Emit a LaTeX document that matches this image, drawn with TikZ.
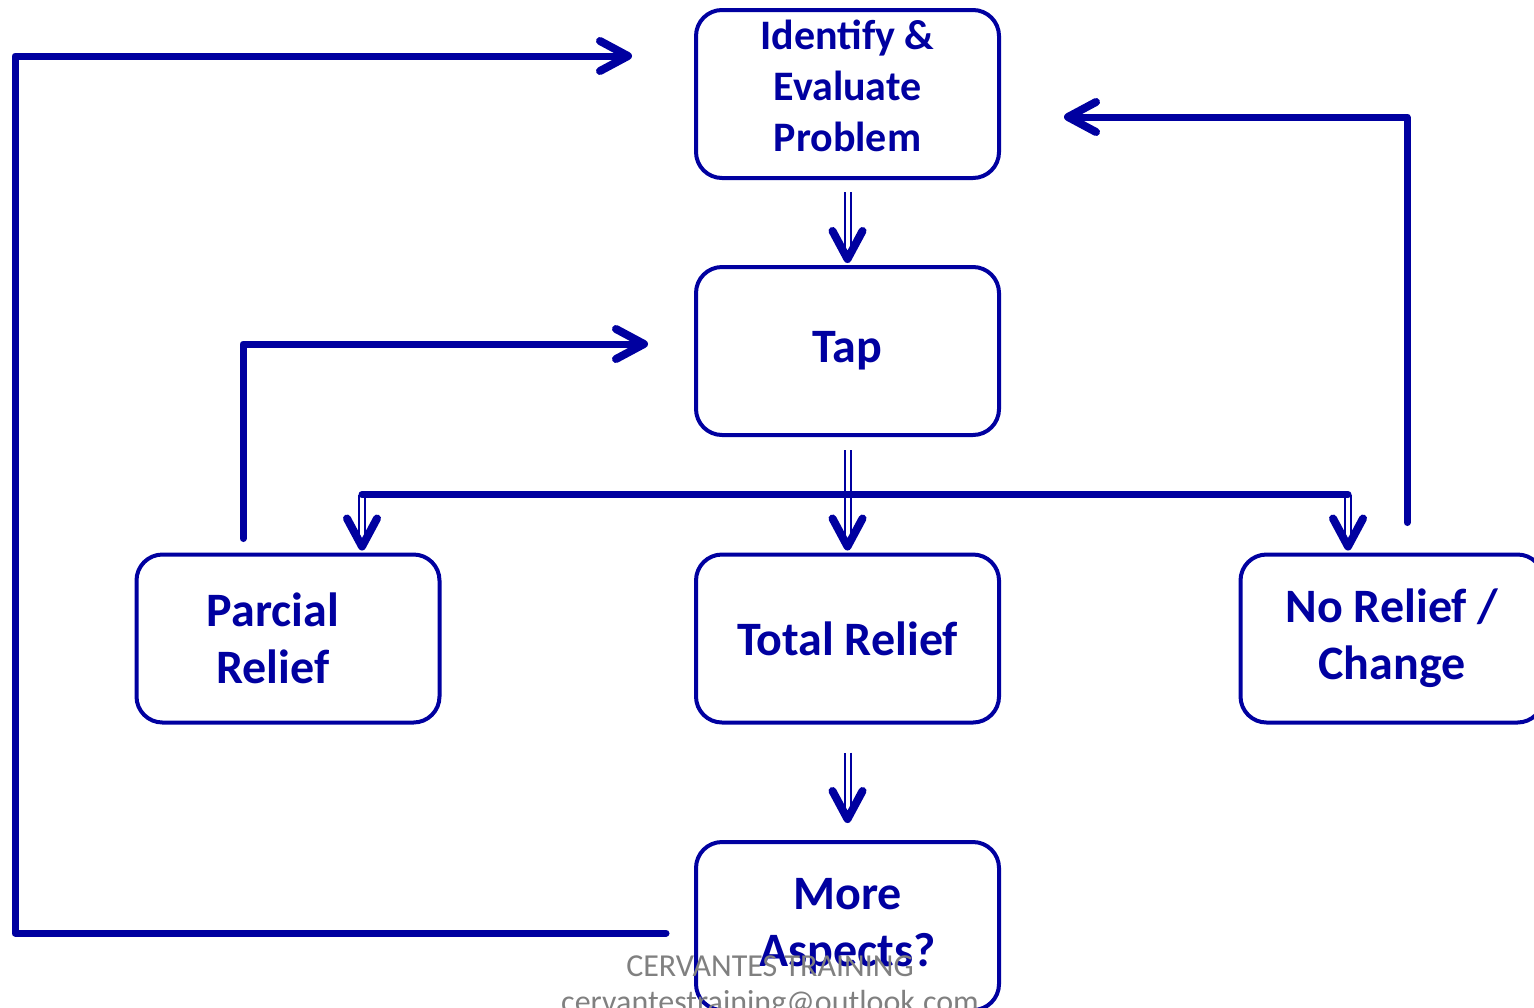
\documentclass[tikz,border=0pt]{standalone}
\usepackage{fontspec}
\setmainfont{Carlito}
\usepackage{tikz}
\usetikzlibrary{arrows.meta}
\usetikzlibrary{calc}

\begin{document}
\begin{tikzpicture}[x=0.5pt, y=-0.5pt,
				every text node part/.style={align=center},
				block/.style={rectangle, draw=navyblue, line width=2pt, fill=white, minimum width=151.5pt, minimum height=84pt, rounded corners=13pt, text=navyblue, font=\fontsize{24}{28.5}\selectfont\bfseries},
				shaft/.style={draw=navyblue, double=white, double distance=2pt, line width=1pt, -{Straight Barb[length=14pt, width=15pt, line width=4pt, round]}},
				feedback/.style={navyblue, line width=3.5pt, line join=round, line cap=round, -{Straight Barb[length=14pt, width=15pt, line width=4pt, round]}},
				bus/.style={navyblue, line width=3.5pt, line cap=round},
				wmark/.style={text=gray, font=\fontsize{16}{19}\selectfont}]

					\definecolor{navyblue}{RGB}{0,0,160}

					\useasboundingbox (0,0) rectangle (1534,1007);
					\clip (0,0) rectangle (1534,1007);

					\node[block, font=\fontsize{21}{25.5}\selectfont\bfseries, text depth=8.5pt] (identify) at (847.5,94) {Identify \&\\ Evaluate\\ Problem};
					\node[block] (tap) at (847.5,351) {Tap};
					\node[block] (parcial) at (288,638.5) {Parcial\hspace*{15pt}\\ Relief\hspace*{15pt}};
					\node[block] (total) at (847.5,638.5) {Total Relief};
					\node[block] (norelief) at (1392,638.5) {No Relief /\\ Change};
					\node[block] (more) at (847.5,926) {More\\ Aspects?};

					\coordinate (busL) at ($(parcial.north)+(74,-58)$);
					\coordinate (busR) at ($(norelief.north)+(-44,-58)$);
					\coordinate (edge) at (15,56);

					\draw[shaft] ($(identify.south)+(0,12)$) -- ($(tap.north)+(0,-2)$);
					\draw[shaft] ($(tap.south)+(0,13)$) -- ($(total.north)+(0,-2)$);
					\draw[shaft] (busL) -- ($(busL |- parcial.north)+(0,-2)$);
					\draw[shaft] (busR) -- ($(busR |- norelief.north)+(0,-2)$);
					\draw[shaft] ($(total.south)+(0,28)$) -- ($(more.north)+(0,-17)$);
					\draw[bus] (busL) -- (busR);

					\draw[feedback] ($(parcial.north)+(-45,-14)$) |- ($(tap.west)+(-46,-7)$);
					\draw[feedback] ($(norelief.north)+(15,-30)$) |- ($(identify.east)+(63,23)$);
					\draw[feedback] ($(more.west)+(-28,7)$) -| (edge) -- ($(identify.west)+(-62,-38)$);

					\node[wmark] (brand) at (770,966) {CERVANTES TRAINING};
					\node[wmark] (mail) at (770,1004) {cervantestraining@outlook.com};
				\end{tikzpicture}
\end{document}
